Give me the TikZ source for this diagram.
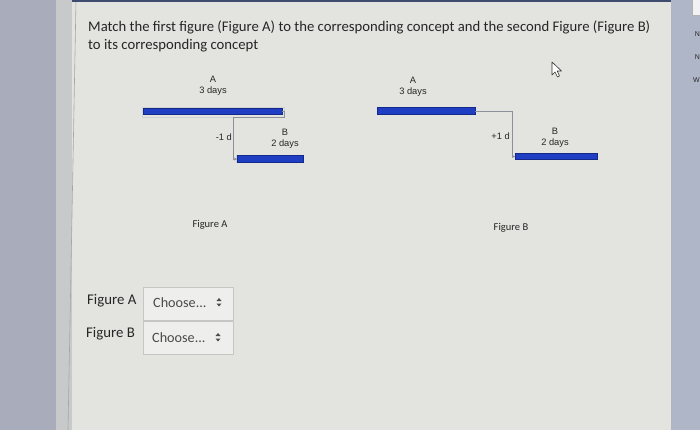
\documentclass[tikz,border=0pt]{standalone}
\usepackage{fontspec}
\setmainfont{Carlito}
\newfontfamily\arialf{Liberation Sans}
\usetikzlibrary{calc,arrows.meta}
\definecolor{pagebg}{HTML}{E3E3E0}
\definecolor{leftstrip}{HTML}{A9ADBB}
\definecolor{leftstrip2}{HTML}{C8C9CB}
\definecolor{rightstrip}{HTML}{AFB6C7}
\definecolor{topbar}{HTML}{3D4C6E}
\definecolor{barblue}{HTML}{1F3EC4}
\definecolor{barline}{HTML}{12298A}
\definecolor{connc}{HTML}{8C9099}
\definecolor{txt}{HTML}{262626}
\definecolor{boxline}{HTML}{C6C6C4}
\definecolor{choosec}{HTML}{4A4A4A}
\tikzset{
  ganttbar/.style={draw=barline, line width=0.6pt, fill=barblue, inner sep=0pt, outer sep=0pt, minimum height=6.5pt},
  halo/.style={draw=gray!35, line width=0.5pt},
  conn/.style={draw=connc, line width=0.7pt},
  smalllbl/.style={font=\arialf\fontsize{9.3}{10.5}\selectfont, text=txt, inner sep=0pt, align=center},
  figlbl/.style={font=\fontsize{10.5}{12}\selectfont, text=txt, inner sep=0pt},
  rowlbl/.style={font=\fontsize{14.8}{16}\selectfont, text=txt, inner sep=0pt},
  choosebox/.style={draw=boxline, line width=0.6pt, fill=pagebg!60!white, minimum width=90pt, minimum height=33pt, inner sep=0pt},
  choosetxt/.style={font=\fontsize{14.2}{15}\selectfont, text=choosec, inner sep=0pt},
  tri/.style={fill=choosec, draw=none},
  edgelbl/.style={font=\arialf\fontsize{7}{8}\selectfont, text=txt, anchor=east, inner sep=0pt}
}
\begin{document}
\begin{tikzpicture}[x=1pt,y=-1pt]
\useasboundingbox (0,0) rectangle (700,430);
% background
\fill[pagebg] (0,0) rectangle (700,430);
\fill[leftstrip] (0,0) rectangle (56,430);
\fill[leftstrip2] (56,0) rectangle (72,430);
\draw[gray!70, line width=0.6pt] (76,0) -- (68,430);
\fill[rightstrip] (671,0) rectangle (700,430);
\fill[topbar] (72,0) rectangle (671,2);
\filldraw[fill=gray!10, draw=gray!60] (692,-1) rectangle (701,15);
\node[edgelbl] (e1) at (700,34) {N};
\node[edgelbl] (e2) at (700,57) {N};
\node[edgelbl] (e3) at (700,80) {W};

% title
\node[font=\fontsize{14.7}{20}\selectfont, text=txt, anchor=base west, inner sep=0pt] (title1) at (88,32) {Match the first figure (Figure A) to the corresponding concept and the second Figure (Figure B)};
\node[font=\fontsize{14.7}{20}\selectfont, text=txt, anchor=base west, inner sep=0pt] (title2) at (88,50) {to its corresponding concept};

% cursor
\filldraw[fill=white, draw=black!80, line width=0.6pt, line join=round]
  (552,62) -- (552,75) -- (555,72) -- (557.5,77) -- (559.5,76) -- (557.2,71) -- (561.5,71) -- cycle;

% ---------- Figure A ----------
\node[smalllbl] (faAlbl) at (213,86) {A\\3 days};
\draw[halo] (142.5,107.5) rectangle (284,117.5);
\node[ganttbar, minimum width=139pt] (faA) at (212.5,111.5) {};
\node[smalllbl] (faBlbl) at (285,139) {B\\2 days};
\node[smalllbl, anchor=east] (falag) at (232,137) {-1 d};
\draw[halo] (236.5,155.5) rectangle (303.5,162.5);
\node[ganttbar, minimum width=66pt] (faB) at (270,159) {};
\coordinate (faTurn) at ($(faA.east)+(2,6)$);
\draw[conn, -{Stealth[length=3pt,width=3pt]}] (faA.east) -- ++(2,0) -- (faTurn) -| ($(faB.west)+(-4,0)$) -- (faB.west);
\node[figlbl] (figA) at (210,225) {Figure A};

% ---------- Figure B ----------
\node[smalllbl] (fbAlbl) at (413,87) {A\\3 days};
\node[ganttbar, minimum width=98pt] (fbA) at (426,111) {};
\node[smalllbl] (fbBlbl) at (555,138) {B\\2 days};
\node[smalllbl, anchor=east] (fblag) at (510,136) {+1 d};
\node[ganttbar, minimum width=82pt] (fbB) at (556,156.5) {};
\draw[conn, -{Stealth[length=3pt,width=3pt]}] (fbA.east) -| ($(fbB.west)+(-3,0)$) -- (fbB.west);
\node[figlbl] (figB) at (511,228) {Figure B};

% ---------- answer rows ----------
\node[rowlbl, anchor=west] (rowA) at (87,301) {Figure A};
\node[choosebox, anchor=north west] (boxA) at (143,287) {};
\node[choosetxt, anchor=west] (chA) at (153,303) {Choose...};
\fill[tri] (216.5,301) -- (219,298) -- (221.5,301) -- cycle;
\fill[tri] (216.5,303.5) -- (219,306.5) -- (221.5,303.5) -- cycle;

\node[rowlbl, anchor=west] (rowB) at (86,334) {Figure B};
\node[choosebox, anchor=north west] (boxB) at (143,321) {};
\node[choosetxt, anchor=west] (chB) at (152,338) {Choose...};
\fill[tri] (215.5,336) -- (218,333) -- (220.5,336) -- cycle;
\fill[tri] (215.5,338.5) -- (218,341.5) -- (220.5,338.5) -- cycle;
\end{tikzpicture}
\end{document}
